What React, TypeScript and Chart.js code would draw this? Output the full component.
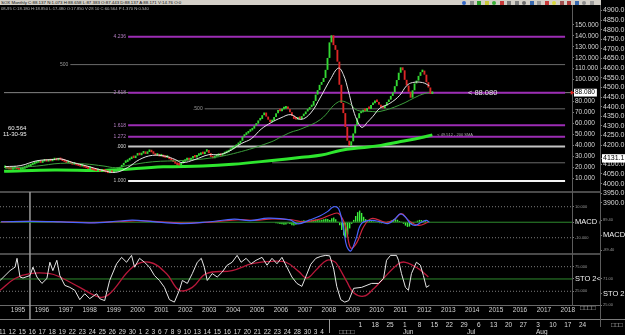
import React, { useEffect, useRef } from 'react';
import { Chart, registerables } from 'chart.js';
Chart.register(...registerables);

const FONT = '"Liberation Sans", "DejaVu Sans", Arial, sans-serif';

// ---------- DATA ----------
// monthly closes, one per bar (bar index 0..216)
const closes = [
  19.5, 18.8, 18.2, 17.9, 18.5, 19.0, 18.3, 17.6, 17.9, 18.6, 19.4, 20.1, 20.8,
  21.9, 22.6, 23.5, 24.1,
  24.8, 24.0, 25.2, 25.9, 25.1, 26.0, 25.4, 26.3, 27.1, 26.2, 26.8, 26.5,
  25.6, 24.9, 23.8, 24.4, 23.1, 22.3, 22.9, 21.7, 21.2, 20.6, 21.0, 19.8,
  19.1, 18.4, 18.9, 17.6, 17.0, 16.4, 17.2, 16.1, 16.8,
  16.0, 15.3, 14.6, 15.4, 14.8, 15.9, 16.7, 17.9,
  19.8, 21.6, 23.9, 24.8, 26.2, 27.4,
  29.1, 28.3, 30.6, 31.8, 30.9, 32.5, 33.4, 32.1, 33.9, 34.8,
  33.6, 32.2, 30.5, 31.4, 29.8, 30.2, 29.1, 28.6, 28.9,
  27.3, 26.1, 24.8, 23.2, 22.0, 21.6,
  23.5, 24.9, 26.3, 27.1, 26.4,
  27.9, 29.5, 28.8, 30.4, 31.2, 32.6, 31.9, 34.1, 35.6,
  32.8, 29.4, 28.1, 29.6, 30.3,
  31.2, 30.4, 31.8, 32.7, 33.5,
  34.9, 36.3, 37.1, 38.5, 40.2, 41.6,
  44.1, 47.8, 49.5, 50.8, 52.4, 53.6,
  55.2, 57.9, 59.8, 62.7, 64.1, 67.5, 69.9,
  66.2, 63.4, 61.1, 62.5,
  65.8, 69.2, 72.3, 71.0, 72.9, 73.6, 74.5, 73.1,
  70.2, 66.9, 64.1, 63.5, 65.2, 64.0, 66.6,
  68.4, 70.9, 72.6, 74.8, 76.2,
  80.5, 86.3, 90.4, 95.2, 97.8,
  101.5, 108.9, 119.8,
  134.0, 140.5,
  131.5, 127.2, 116.4, 95.3, 78.6, 69.4, 56.8, 44.2, 39.5,
  43.6, 50.8, 58.4, 64.7, 69.3,
  70.1, 72.5, 71.3, 74.0, 73.2, 76.8, 78.4,
  80.9, 79.6, 77.1, 74.6,
  73.8, 76.2, 79.5, 81.7,
  85.1, 88.4, 94.0, 99.6,
  106.3, 111.2, 108.5,
  99.8, 94.6, 88.9,
  83.5,
  90.2, 96.5, 99.1, 103.4,
  106.8, 108.2, 104.5,
  97.6, 92.8, 86.9, 88.1,
];
const firstOpen = 19.2;
const lastPrice = 88.08;

const maFastIdx = [0, 8, 16, 24.5, 28, 34.5, 41, 49.5, 56, 62, 68, 74.5, 81, 86, 89.5, 96, 103, 108, 113, 119.5, 124.5, 129.5, 134.5, 139.5, 144.5, 149.5, 154.5, 159.5, 164.5, 168.5, 171, 173.5, 176, 178.5, 180.5, 183, 186, 189.5, 194.5, 199.5, 203, 206, 211, 214.5];
const maFast = [20.5, 21.5, 25.8, 27.0, 27.6, 24.1, 21.2, 17.0, 15.3, 19.7, 27.0, 30.8, 30.0, 27.0, 24.1, 27.0, 31.4, 31.4, 34.3, 41.6, 46.0, 54.8, 60.7, 65.1, 68.0, 63.6, 69.5, 84.1, 100.3, 110.5, 104.7, 90.0, 72.4, 60.7, 56.3, 60.7, 66.5, 73.9, 78.3, 85.6, 94.4, 97.3, 97.3, 94.4];

const maSlowIdx = [0, 16, 28, 40, 50, 56, 62, 74.5, 89.5, 104.5, 119.5, 134.5, 139.5, 144.5, 149.5, 159.5, 168.5, 174, 178, 184.5, 189.5, 199.5, 209.5, 214.5];
const maSlow = [19.0, 21.0, 23.5, 23.0, 21.0, 19.5, 21.5, 24.9, 26.1, 28.5, 34.3, 43.1, 47.6, 51.9, 54.8, 63.6, 79.7, 78.0, 72.0, 71.0, 70.9, 76.8, 85.6, 88.5];

const sma200Idx = [-0.5, 25, 50, 80, 100, 115, 135, 150, 160, 170, 180, 190, 200, 210, 216];
const sma200 = [16.2, 17.5, 17.0, 20.3, 21.0, 22.6, 26.1, 29.0, 31.1, 35.5, 37.7, 39.9, 43.4, 46.9, 49.5];
const sma200Last = 49.512;

// Fibonacci / reference lines
const fibLevels = [139.2, 113.7, 88.08, 88.08, 73.3, 58.3, 47.8, 38.9, 24.0, 7.4];
const fibStart = [62.2, 33.0, -1, 62.2, 100.9, 62.2, 62.2, 62.2, 135.0, 62.2];
const fibEnd = [283.1, 283.1, 287, 283.1, 283.1, 283.1, 283.1, 283.1, 283.1, 283.1];
const fibText = ['4.236', '500', '', '2.618', '.500', '1.618', '1.272', '.000', '', '1.000'];
const fibKind = ['fib', 'grid', 'price', 'fib', 'grid', 'fib', 'fib', 'zero', 'grid', 'one'];

// MACD
const macdIdx = [0, 15, 30, 45, 60, 66, 75, 90, 105, 117, 125, 134, 145, 149, 155, 160, 164, 167, 169.5, 172, 173.5, 175.5, 178, 181, 186, 191, 194.5, 198, 200.5, 203, 205.5, 208, 211, 213.5, 215];
const macd = [0.3, 0.6, 0.2, -0.4, 0.8, 1.3, 0.5, -0.9, 0.3, 2.0, 1.0, 2.6, 1.5, -1.0, 1.5, 4.0, 7.0, 10.0, 8.5, -5.0, -15.4, -18.5, -11.4, -0.8, 1.2, 0.0, -0.8, 2.4, 5.4, 3.3, -0.8, -2.0, 0.0, 1.2, 0.0];
const signalIdx = [0, 15, 30, 45, 60, 68, 80, 92, 105, 120, 128, 136, 146, 152, 160, 166, 169.5, 173, 175.5, 178.5, 182, 186, 193, 197, 201, 204.5, 209.5, 214.5];
const signal = [0.2, 0.5, 0.3, -0.2, 0.5, 1.0, 0.3, -0.6, 0.1, 1.6, 1.2, 2.2, 1.6, 0.2, 2.0, 5.0, 5.6, -2.9, -16.6, -13.3, -2.9, 2.4, 0.0, 1.2, 5.6, 1.2, -2.0, 0.0];
const histStart = 136;
const hist = [
  0.3, -0.4, -0.6, -0.9, -1.1, -1.3, -1.6, -1.4, -0.9, -1.2, -1.9, -2.1, -1.6, -0.8,
  0.4, 0.9, 1.2, 1.0, 0.7, 0.9, 1.3, 1.6, 1.8, 1.5, 1.2, 1.6, 2.0, 2.3, 2.1,
  1.5, 2.5, 3.0, 2.0, 0.5, -2.0, -5.0, -8.5, -10.0, -8.0, -4.0, -1.0, 1.5, 4.0, 6.5,
  7.5, 6.0, 3.5, 2.0, 1.5, 1.2, 1.0, 0.6, 0.2, -0.3, -0.6, -0.7, -0.5, -0.3, 0.2,
  0.6, 1.2, 1.8, 2.0, 1.6, 0.8, 0.2, -1.0, -2.2, -3.0, -2.8, -1.5, -0.5, 0.4, 1.0,
  1.5, 1.4, 1.0, 0.8, 0.5, 0.3,
];

// Stochastic
const stoKIdx = [-0.5, 2, 4.5, 7, 8, 9.5, 11, 14.5, 16, 18, 20.5, 23, 24.5, 26, 28, 29.5, 32, 34.5, 37, 39.5, 42, 44.5, 48, 49.5, 52, 54.5, 58, 60.5, 63, 65.5, 67, 69.5, 72, 74.5, 77, 79.5, 82, 84.5, 87, 89.5, 91, 93.5, 96, 98.5, 100.5, 102, 103.5, 106, 108.5, 111, 113.5, 116, 118.5, 120.5, 123, 125.5, 128, 131, 133.5, 136, 138.5, 141, 143.5, 146, 148.5, 151, 153.5, 155.5, 158, 160.5, 163, 165, 167, 168.5, 170.5, 172.5, 174.5, 177, 181, 186, 189.5, 192, 193.5, 195.5, 198.5, 199.5, 201, 203, 204.5, 206, 208.5, 210.5, 212, 213.5, 215];
const stoK = [47, 57, 67, 74, 92, 54, 52, 57, 74, 54, 41, 51, 84, 67, 88, 57, 37, 33, 27, 8, 20, 10, 20, 10, 6, 47, 81, 94, 84, 98, 74, 92, 84, 74, 57, 47, 33, 8, 3, 27, 47, 41, 61, 84, 92, 74, 47, 61, 54, 64, 78, 84, 98, 84, 92, 81, 88, 94, 78, 92, 81, 94, 74, 54, 41, 35, 60, 80, 92, 96, 98, 97, 70, 35, 8, 3, 6, 31, 33, 41, 41, 51, 88, 98, 98, 88, 61, 33, 27, 61, 84, 78, 57, 33, 37];
const stoDIdx = [-0.5, 7, 14.5, 24.5, 29.5, 39.5, 49.5, 54.5, 66, 74.5, 83, 89.5, 96, 103, 116, 126, 136, 143, 149.5, 153.5, 158.5, 163.5, 167.5, 169.5, 173.5, 177, 182, 187, 191, 199.5, 203, 209.5, 214.5];
const stoD = [27, 51, 61, 61, 54, 33, 13, 20, 74, 84, 61, 27, 33, 61, 67, 81, 86, 84, 65, 52, 70, 88, 85, 74, 45, 22, 15, 30, 47, 81, 84, 71, 54];

const cursorIdx = 14.5;

// tick labels
const priceTicks = [150, 140, 130, 120, 110, 100, 88.08, 80, 70, 60, 50, 40, 30, 20, 10];
const refTicks = [4900, 4850, 4800, 4750, 4700, 4650, 4600, 4550, 4500, 4450, 4400, 4350, 4300, 4250, 4200, 4100, 4050, 4000, 3950, 3900, 4131.1];
const refMark = 4131.1;
const macdTicks = [10, 0, -10];
const macdTickText = ['10.000', 'MACD (', '-10.000'];
const macdOuterTicks = [89.4, 0, -89.4];
const macdOuterText = ['89.40', 'MACD (', '-89.40'];
const stoTicks = [75, 50, 25];
const stoTickText = ['75.000', 'STO 2<', '25.000'];
const stoOuterTicks = [71, 44.5, 25];
const stoOuterText = ['71.00', 'STO 2', '25.00'];
const yearLabels = ['1995', '1996', '1997', '1998', '1999', '2000', '2001', '2002', '2003', '2004', '2005', '2006', '2007', '2008', '2009', '2010', '2011', '2012', '2013', '2014', '2015', '2016', '2017', '2018'];
const firstYearIdx = 8.5;
const dayLabels = ['11', '12', '15', '16', '17', '18', '19', '22', '23', '24', '25', '26', '29', '30', '1', '2', '3', '6', '7', '8', '9', '10', '13', '14', '15', '16', '17', '20', '21', '22', '23', '24', '28', '30', '3', '4'];
const weekLabels = ['1', '18', '25', '1', '8', '15', '22', '29', '6', '13', '20', '27', '3', '10', '17', '24'];
const monthLabels = ['Jun', 'Jul', 'Aug'];
const headerText = 'SOX Monthly C:88.137 N:1.073 H:88.658 L:87.383 O:87.443 D:88.137 A:88.171 V:14.76 O:0';
const infoText = '08-95 C:18.180 H:18.850 L:17.480 O:17.850 V:28 10 C:60.564 P:1.370 N:0.540';
const cursorValue = '60.564';
const cursorDate = '11-30-95';

// ---------- LAYOUT / STYLE ----------
const X_MIN = -0.54;
const X_MAX = 286.6;
const MAIN_RANGE = [-15.48, 169.07];
const REF_RANGE = [3883.5, 4933.5];
const MACD_RANGE = [-20.5, 19.5];
const MACD_OUTER_RANGE = [-113.2, 256.3];
const STO_RANGE = [-2.9, 100.8];
const STO_OUTER_RANGE = [25, 115.2];

const fibStyle: any = {
  fib: { color: '#9c2db4', width: 2, label: '#b27cc0' },
  grid: { color: '#6a6a6a', width: 1, label: '#9a9a9a' },
  price: { color: '#858585', width: 1, label: '#aaa' },
  zero: { color: '#c4c4c4', width: 2, label: '#dddddd' },
  one: { color: '#f2f2f2', width: 2, label: '#bbbbbb' },
};

const pts = (idx: number[], vals: number[]) => idx.map((x, k) => ({ x, y: vals[k] }));
const lineBase = { type: 'line', pointRadius: 0, pointHoverRadius: 0, fill: false };

function findText(v: number, ticks: number[], texts: string[]) {
  const k = ticks.findIndex((t) => Math.abs(t - v) < 1e-6);
  return k >= 0 ? texts[k] : '';
}

function rightAxis(o: any) {
  return {
    type: 'linear',
    position: 'right',
    min: o.range[0],
    max: o.range[1],
    afterBuildTicks: (s: any) => {
      s.ticks = o.ticks.map((v: number) => ({ value: v }));
    },
    afterFit: (s: any) => {
      s.width = o.width;
      s.paddingTop = 0;
      s.paddingBottom = 0;
    },
    grid: { drawOnChartArea: false, drawTicks: true, tickLength: 2, color: '#7a7a7a' },
    border: { display: true, color: '#5c5c5c', width: 1 },
    ticks: {
      autoSkip: false,
      padding: 1,
      callback: (v: any) => o.label(Number(v)),
      font: (c: any) => o.font(c.tick ? c.tick.value : 0),
      color: (c: any) => o.color(c.tick ? c.tick.value : 0),
      showLabelBackdrop: (c: any) => o.mark !== undefined && !!c.tick && Math.abs(c.tick.value - o.mark) < 1e-6,
      backdropColor: '#ffffff',
      backdropPadding: { top: 0, bottom: 0, left: 1, right: 2 },
    },
  };
}

const hiddenX = { type: 'linear', min: X_MIN, max: X_MAX, offset: false, display: false };

const annotPlugin = {
  id: 'annot',
  afterDatasetsDraw(chart: any) {
    const { ctx, scales } = chart;
    const xs = scales.x;
    const ys = scales.y;
    ctx.save();
    ctx.textBaseline = 'middle';
    ctx.textAlign = 'right';
    ctx.font = `5px ${FONT}`;
    fibLevels.forEach((lv, k) => {
      if (!fibText[k]) return;
      ctx.fillStyle = fibStyle[fibKind[k]].label;
      ctx.fillText(fibText[k], xs.getPixelForValue(fibStart[k]) - 2, ys.getPixelForValue(lv));
    });
    ctx.textAlign = 'left';
    ctx.font = `7.5px ${FONT}`;
    ctx.fillStyle = '#e2e2e2';
    ctx.fillText('< ' + lastPrice.toFixed(3), xs.getPixelForValue(234), ys.getPixelForValue(lastPrice) + 0.5);
    ctx.font = `4px ${FONT}`;
    ctx.fillStyle = '#a8a8a8';
    ctx.fillText('< ' + sma200Last.toFixed(3) + ' - 200 SMA', xs.getPixelForValue(218.5), ys.getPixelForValue(sma200Last));
    ctx.restore();
  },
};

function mainConfig(): any {
  const candles = closes.map((c, i) => ({ x: i, y: [i === 0 ? firstOpen : closes[i - 1], c] }));
  const fibSets = fibLevels.map((lv, k) => ({
    ...lineBase,
    data: [{ x: fibStart[k], y: lv }, { x: fibEnd[k], y: lv }],
    borderColor: fibStyle[fibKind[k]].color,
    borderWidth: fibStyle[fibKind[k]].width,
    order: fibKind[k] === 'price' ? 11 : 10,
  }));
  return {
    type: 'bar',
    data: {
      datasets: [
        { ...lineBase, data: pts(maFastIdx, maFast), borderColor: '#e4e4e4', borderWidth: 1, tension: 0.4, order: 1 },
        { ...lineBase, data: pts(maSlowIdx, maSlow), borderColor: '#3c9e3c', borderWidth: 1, tension: 0.4, order: 2 },
        {
          type: 'bar',
          data: candles,
          backgroundColor: (c: any) => (c.raw && c.raw.y[1] >= c.raw.y[0] ? '#33d833' : '#dc2626'),
          borderWidth: 0,
          barPercentage: 0.95,
          categoryPercentage: 1,
          minBarLength: 2.5,
          order: 3,
        },
        { ...lineBase, data: pts(sma200Idx, sma200), borderColor: '#2ee62e', borderWidth: 3, tension: 0.4, order: 4 },
        ...fibSets,
        {
          type: 'line',
          data: [{ x: X_MAX, y: lastPrice }],
          showLine: false,
          pointStyle: 'triangle',
          rotation: 90,
          pointRadius: 2.5,
          backgroundColor: '#e02020',
          borderColor: '#e02020',
          borderWidth: 0,
          clip: false,
          order: 0,
        },
      ],
    },
    options: {
      animation: false,
      responsive: false,
      devicePixelRatio: 1,
      events: [],
      layout: { padding: 0 },
      plugins: { legend: { display: false }, tooltip: { enabled: false } },
      scales: {
        x: hiddenX,
        y: rightAxis({
          range: MAIN_RANGE,
          ticks: priceTicks,
          width: 28,
          mark: lastPrice,
          label: (v: number) => v.toFixed(3),
          font: () => ({ family: FONT, size: 6.5 }),
          color: (v: number) => (Math.abs(v - lastPrice) < 1e-6 ? '#000' : '#d8d8d8'),
        }),
        y2: rightAxis({
          range: REF_RANGE,
          ticks: refTicks,
          width: 25,
          mark: refMark,
          label: (v: number) => v.toFixed(1),
          font: () => ({ family: FONT, size: 7 }),
          color: (v: number) => (Math.abs(v - refMark) < 1e-6 ? '#000' : '#d8d8d8'),
        }),
      },
    },
    plugins: [annotPlugin],
  };
}

const nameFont = { family: FONT, size: 7.5 };
const tinyFont = { family: FONT, size: 4 };

function macdConfig(): any {
  return {
    type: 'bar',
    data: {
      datasets: [
        { ...lineBase, data: pts(macdIdx, macd), borderColor: '#4a64ff', borderWidth: 1.2, tension: 0.4, order: 1 },
        { ...lineBase, data: pts(signalIdx, signal), borderColor: '#d3283c', borderWidth: 1.2, tension: 0.4, order: 2 },
        {
          type: 'bar',
          data: hist.map((v, k) => ({ x: histStart + k, y: v })),
          backgroundColor: '#3cf03c',
          barPercentage: 0.7,
          categoryPercentage: 1,
          order: 3,
        },
        { ...lineBase, data: [{ x: X_MIN, y: 0 }, { x: X_MAX, y: 0 }], borderColor: '#2e8b2e', borderWidth: 1, order: 4 },
        { ...lineBase, data: [{ x: X_MIN, y: macdTicks[0] }, { x: X_MAX, y: macdTicks[0] }], borderColor: '#7d7d7d', borderWidth: 1, borderDash: [1, 2], order: 5 },
        { ...lineBase, data: [{ x: X_MIN, y: macdTicks[2] }, { x: X_MAX, y: macdTicks[2] }], borderColor: '#7d7d7d', borderWidth: 1, borderDash: [1, 2], order: 5 },
        { ...lineBase, data: [{ x: cursorIdx, y: MACD_RANGE[1] }, { x: cursorIdx, y: MACD_RANGE[0] }], borderColor: '#9a9a9a', borderWidth: 1.5, clip: false, order: 6 },
      ],
    },
    options: {
      animation: false,
      responsive: false,
      devicePixelRatio: 1,
      events: [],
      layout: { padding: 0 },
      plugins: { legend: { display: false }, tooltip: { enabled: false } },
      scales: {
        x: hiddenX,
        y: rightAxis({
          range: MACD_RANGE,
          ticks: macdTicks,
          width: 28,
          label: (v: number) => findText(v, macdTicks, macdTickText),
          font: (v: number) => (v === 0 ? nameFont : tinyFont),
          color: (v: number) => (v === 0 ? '#f2f2f2' : '#9a9a9a'),
        }),
        y2: rightAxis({
          range: MACD_OUTER_RANGE,
          ticks: macdOuterTicks,
          width: 25,
          label: (v: number) => findText(v, macdOuterTicks, macdOuterText),
          font: (v: number) => (v === 0 ? nameFont : tinyFont),
          color: (v: number) => (v === 0 ? '#f2f2f2' : '#9a9a9a'),
        }),
      },
    },
  };
}

function stoConfig(): any {
  return {
    type: 'line',
    data: {
      datasets: [
        { ...lineBase, data: pts(stoKIdx, stoK), borderColor: '#e6e6e6', borderWidth: 1, tension: 0, order: 1 },
        { ...lineBase, data: pts(stoDIdx, stoD), borderColor: '#b8183a', borderWidth: 1.3, tension: 0.4, order: 2 },
        { ...lineBase, data: [{ x: X_MIN, y: stoTicks[1] }, { x: X_MAX, y: stoTicks[1] }], borderColor: '#2e8b2e', borderWidth: 1, order: 3 },
        { ...lineBase, data: [{ x: X_MIN, y: stoTicks[0] }, { x: X_MAX, y: stoTicks[0] }], borderColor: '#7d7d7d', borderWidth: 1, borderDash: [1, 2], order: 4 },
        { ...lineBase, data: [{ x: X_MIN, y: stoTicks[2] }, { x: X_MAX, y: stoTicks[2] }], borderColor: '#7d7d7d', borderWidth: 1, borderDash: [1, 2], order: 4 },
        { ...lineBase, data: [{ x: cursorIdx, y: STO_RANGE[1] }, { x: cursorIdx, y: -33 }], borderColor: '#9a9a9a', borderWidth: 1.5, clip: false, order: 5 },
      ],
    },
    options: {
      animation: false,
      responsive: false,
      devicePixelRatio: 1,
      events: [],
      layout: { padding: 0 },
      plugins: { legend: { display: false }, tooltip: { enabled: false } },
      scales: {
        x: {
          type: 'linear',
          min: X_MIN,
          max: X_MAX,
          offset: false,
          position: 'bottom',
          afterBuildTicks: (s: any) => {
            s.ticks = yearLabels.map((_, k) => ({ value: firstYearIdx + 12 * k }));
          },
          afterFit: (s: any) => {
            s.height = 15;
          },
          grid: { display: false, drawTicks: false },
          border: { display: true, color: '#6a6a6a' },
          ticks: {
            autoSkip: false,
            maxRotation: 0,
            padding: 1,
            color: '#d2d2d2',
            font: { family: FONT, size: 6.5 },
            callback: (_v: any, i: number) => yearLabels[i],
          },
        },
        y: rightAxis({
          range: STO_RANGE,
          ticks: stoTicks,
          width: 28,
          label: (v: number) => findText(v, stoTicks, stoTickText),
          font: (v: number) => (v === 50 ? nameFont : tinyFont),
          color: (v: number) => (v === 50 ? '#f2f2f2' : '#9a9a9a'),
        }),
        y2: rightAxis({
          range: STO_OUTER_RANGE,
          ticks: stoOuterTicks,
          width: 25,
          label: (v: number) => findText(v, stoOuterTicks, stoOuterText),
          font: (v: number) => (v === 44.5 ? nameFont : tinyFont),
          color: (v: number) => (v === 44.5 ? '#f2f2f2' : '#9a9a9a'),
        }),
      },
    },
  };
}

const iconColors = ['#3468c8', '#8a8a8a', '#2ba02b', '#c8c83a', '#38b038', '#c83a3a', '#7a7a7a', '#808080', '#6a6a6a', '#3a6ab0', '#9a9a9a', '#c83a3a', '#d8d83a', '#a05050', '#b03a3a', '#3a6ab0', '#8a8a8a', '#9a9a9a'];

const abs = (l: number, t: number, extra: any = {}) => ({ position: 'absolute' as const, left: l, top: t, ...extra });

export default function App() {
  const mainRef = useRef<HTMLCanvasElement>(null);
  const macdRef = useRef<HTMLCanvasElement>(null);
  const stoRef = useRef<HTMLCanvasElement>(null);

  useEffect(() => {
    const charts = [
      new Chart(mainRef.current as HTMLCanvasElement, mainConfig()),
      new Chart(macdRef.current as HTMLCanvasElement, macdConfig()),
      new Chart(stoRef.current as HTMLCanvasElement, stoConfig()),
    ];
    return () => charts.forEach((c) => c.destroy());
  }, []);

  const txt = { fontFamily: FONT, whiteSpace: 'nowrap' as const };

  return (
    <div style={{ position: 'fixed', left: 0, top: 0, width: 625, height: 335, background: '#000', overflow: 'hidden' }}>
      {/* panel separators */}
      <div style={abs(0, 191, { width: 600, height: 2, background: '#4a4a4a' })} />
      <div style={abs(0, 253, { width: 600, height: 2, background: '#4a4a4a' })} />
      <div style={abs(0, 305, { width: 600, height: 1, background: '#6a6a6a' })} />
      <div style={abs(0, 319, { width: 625, height: 1, background: '#7a7a7a' })} />
      <div style={abs(600, 305, { width: 1, height: 22, background: '#5c5c5c' })} />
      <div style={abs(329, 319, { width: 1, height: 14, background: '#9a9a9a' })} />

      <canvas ref={mainRef} width={625} height={210} style={abs(0, 0)} />
      <canvas ref={macdRef} width={625} height={62} style={abs(0, 192)} />
      <canvas ref={stoRef} width={625} height={66} style={abs(0, 254)} />

      {/* header */}
      <div style={abs(0, 0, { width: 601, height: 5, background: '#d4d0c8', overflow: 'hidden' })}>
        <div style={abs(1, 0, { ...txt, fontSize: 4.4, lineHeight: '5px', color: '#111' })}>{headerText}</div>
        <div style={abs(462, 0.5, { display: 'flex', gap: 3.5 })}>
          {iconColors.map((c, k) => (
            <span key={k} style={{ display: 'block', width: 4, height: 4, background: c, borderRadius: k % 4 === 0 ? 2 : 0 }} />
          ))}
        </div>
      </div>
      <div style={abs(1, 5.5, { ...txt, fontSize: 4.2, lineHeight: '5px', color: '#b4b4b4' })}>{infoText}</div>

      <div style={abs(8, 124.5, { ...txt, fontSize: 6, lineHeight: '7px', color: '#f0f0f0' })}>{cursorValue}</div>
      <div style={abs(3, 131, { ...txt, fontSize: 6, lineHeight: '7px', color: '#f0f0f0' })}>{cursorDate}</div>

      {/* bottom strip */}
      <div style={abs(-1, 328, { ...txt, width: 325, display: 'flex', justifyContent: 'space-between', fontSize: 6.5, lineHeight: '8px', color: '#dcdcdc' })}>
        {dayLabels.map((d, k) => (
          <span key={k}>{d}</span>
        ))}
      </div>
      <div style={abs(339, 328, { ...txt, fontSize: 6.5, lineHeight: '8px', color: '#bdbdbd' })}>□□□□</div>
      <div style={abs(353, 320.5, { ...txt, width: 237, display: 'flex', fontSize: 6.5, lineHeight: '7px', color: '#dcdcdc' })}>
        {weekLabels.map((d, k) => (
          <span key={k} style={{ flex: 1, textAlign: 'center' }}>{d}</span>
        ))}
      </div>
      {monthLabels.map((m, k) => (
        <div key={m} style={abs([403, 467, 536][k], 328, { ...txt, fontSize: 6.5, lineHeight: '8px', color: '#dcdcdc' })}>{m}</div>
      ))}
      <div style={abs(580, 303.5, { ...txt, fontSize: 6.5, lineHeight: '7px', color: '#bdbdbd' })}>□□□□</div>
      <div style={abs(611, 320.5, { ...txt, fontSize: 6.5, lineHeight: '7px', color: '#bdbdbd' })}>□□□</div>
    </div>
  );
}
